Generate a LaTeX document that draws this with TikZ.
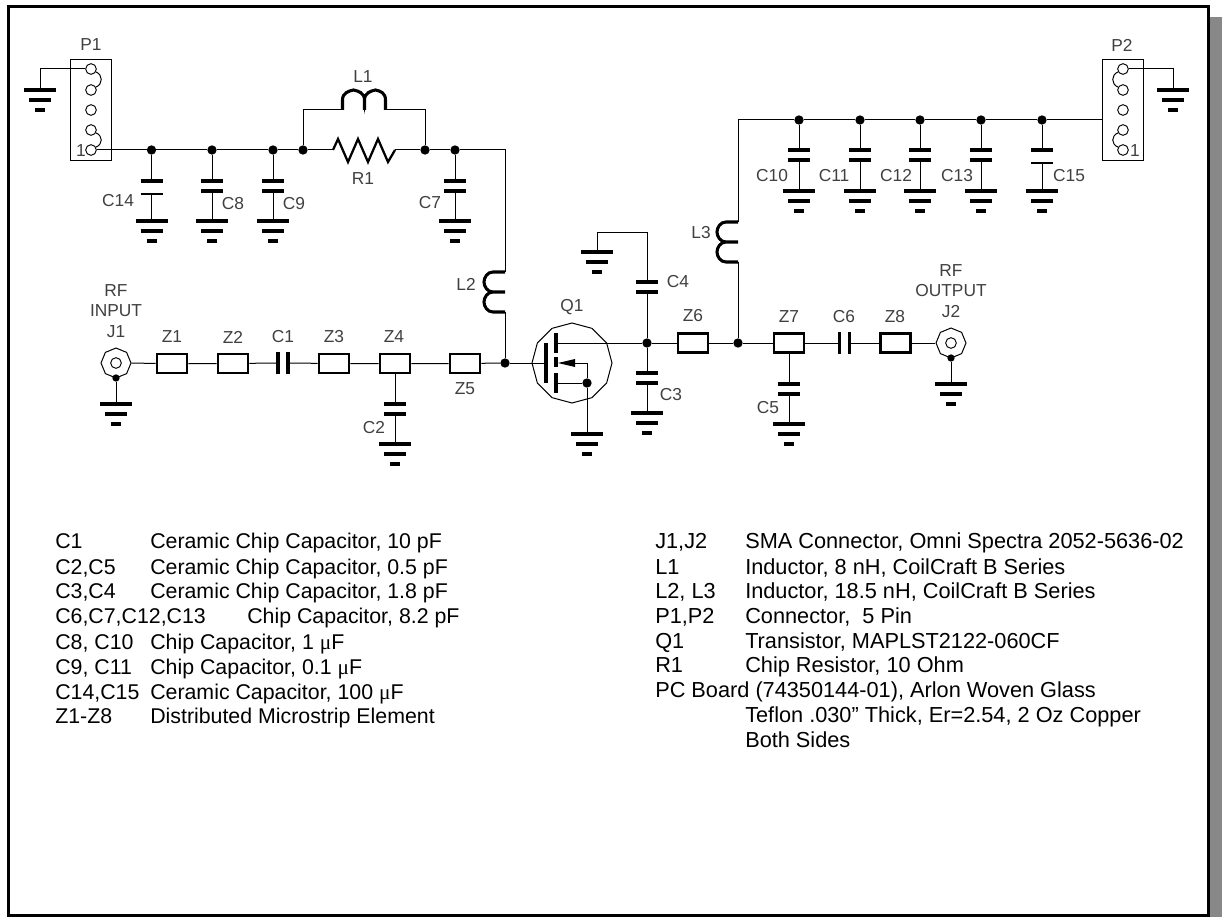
\documentclass[tikz,border=0pt]{standalone}
\usepackage{fontspec}
\setmainfont{Liberation Sans}
\newfontfamily\symbolfont{Liberation Serif}
\usetikzlibrary{shapes.geometric}
\definecolor{shadowgray}{RGB}{136,136,136}
\tikzset{
  wire/.style={line width=0.75pt},
  plate/.style={line width=2.3pt},
  coilline/.style={line width=2.3pt},
  zblock/.style={draw,line width=2.2pt,fill=white,minimum width=22.5pt,minimum height=14.25pt,inner sep=0pt},
  jdot/.style={circle,fill,inner sep=0pt,minimum size=7pt},
  pinring/.style={circle,draw,line width=0.7pt,inner sep=0pt,minimum size=8pt},
  lbl/.style={font=\fontsize{13}{14}\selectfont,text=black!75,inner sep=0pt},
  legtxt/.style={font=\fontsize{16}{18}\selectfont,text=black,anchor=base west,inner sep=0pt},
  legright/.style={font=\fontsize{16.3}{18}\selectfont,text=black,anchor=base west,inner sep=0pt},
}
% ground symbol, top bar at x,y
\newcommand{\gnd}[3]{
  \coordinate (#1) at (#2,#3);
  \draw[plate] (#2-16,#3) -- (#2+16,#3);
  \draw[plate] (#2-11,#3+10) -- (#2+11,#3+10);
  \draw[plate] (#2-5,#3+20) -- (#2+5,#3+20);
}
% capacitor standing upright, top plate at x,y
\newcommand{\capv}[3]{
  \coordinate (#1a) at (#2,#3);
  \coordinate (#1b) at (#2,#3+10);
  \draw[plate] (#2-11,#3) -- (#2+11,#3);
  \draw[plate] (#2-11,#3+10) -- (#2+11,#3+10);
}
% same, with the lower plate thin and a little further down
\newcommand{\capw}[3]{
  \coordinate (#1a) at (#2,#3);
  \coordinate (#1b) at (#2,#3+13);
  \draw[plate] (#2-11,#3) -- (#2+11,#3);
  \draw[line width=1.8pt] (#2-11,#3+13) -- (#2+11,#3+13);
}
% capacitor lying in the line, left plate at x,y
\newcommand{\caph}[3]{
  \coordinate (#1a) at (#2,#3);
  \coordinate (#1b) at (#2+10,#3);
  \draw[plate] (#2,#3-11) -- (#2,#3+11);
  \draw[plate] (#2+10,#3-11) -- (#2+10,#3+11);
}
% inductor hanging from x,y
\newcommand{\coilv}[3]{
  \coordinate (#1a) at (#2,#3);
  \coordinate (#1b) at (#2,#3+40);
  \draw[coilline] (#2,#3) -- (#2-12,#3) .. controls (#2-18,#3) and (#2-21,#3+6) .. (#2-21,#3+10)
    .. controls (#2-21,#3+14) and (#2-18,#3+20) .. (#2-12,#3+20) -- (#2,#3+20)
    (#2-12,#3+20) .. controls (#2-18,#3+20) and (#2-21,#3+26) .. (#2-21,#3+30)
    .. controls (#2-21,#3+34) and (#2-18,#3+40) .. (#2-12,#3+40) -- (#2,#3+40);
}
% inductor lying, from x,y to the right
\newcommand{\coilh}[3]{
  \coordinate (#1a) at (#2,#3);
  \coordinate (#1b) at (#2+43,#3);
  \draw[coilline] (#2,#3) -- (#2,#3-10) .. controls (#2,#3-17) and (#2+6,#3-19) .. (#2+11,#3-20)
    .. controls (#2+16,#3-19) and (#2+22,#3-17) .. (#2+22,#3-10)
    .. controls (#2+22,#3-17) and (#2+28,#3-19) .. (#2+33,#3-20)
    .. controls (#2+38,#3-19) and (#2+43,#3-17) .. (#2+43,#3-10) -- (#2+43,#3)
    (#2+22,#3-10) -- (#2+22,#3);
}
\begin{document}
\begin{tikzpicture}[x=0.75pt,y=-0.75pt]
  \useasboundingbox (0,0) rectangle (1222,917);
  % frame with its shadow
  \fill[shadowgray] (1210,17) rectangle (1222,917);
  \fill[black] (6.5,5) rectangle (1210,917);
  \fill[white] (10,8) rectangle (1207,914);

  % P1 connector
  \node[draw,line width=0.7pt,minimum width=30.75pt,minimum height=75.75pt,inner sep=0pt] (boxP1) at (90.5,109.5) {};
  \node[pinring] (p1a) at (91,69) {};
  \node[pinring] (p1b) at (91,90) {};
  \node[pinring] (p1c) at (91,110) {};
  \node[pinring] (p1d) at (91,130) {};
  \node[pinring] (p1e) at (91,150) {};
  \node[lbl] (labP1) at (91,45) {P1};
  \node[lbl] (lab1a) at (81,151) {1};
  \draw[wire] (p1a.-30) .. controls +(7,3) and +(7,-3) .. (p1b.30);
  \draw[wire] (p1d.-30) .. controls +(7,3) and +(7,-3) .. (p1e.30);
  \gnd{gP1}{40}{90}
  \draw[wire] (p1a.west) -| (gP1);

  % line from P1 with C14, C8, C9, R1, L1, C7
  \node[jdot] (j14) at (151.5,150) {};
  \node[jdot] (j8) at (212,150) {};
  \node[jdot] (j9) at (273,150) {};
  \node[jdot] (jRa) at (303,150) {};
  \node[jdot] (jRb) at (425,150) {};
  \node[jdot] (j7) at (455,150) {};
  \coordinate (R1a) at (333,150);
  \coordinate (R1b) at (395,150);
  \draw[wire] (p1e.east) -- (j14) -- (j8) -- (j9) -- (jRa) -- (R1a);
  \draw[line width=1.7pt] (R1a) -- (338,139) -- (348,162) -- (358,139) -- (368,162) -- (378,139) -- (388,162) -- (R1b);
  \draw[wire] (R1b) -- (jRb) -- (j7);
  \coilh{L1}{342.5}{110}
  \draw[wire] (jRa) |- (L1a);
  \draw[wire] (jRb) |- (L1b);
  \node[lbl] (labL1) at (363,77) {L1};
  \node[lbl] (labR1) at (363,179) {R1};

  \capw{C14}{151.5}{181}
  \gnd{g14}{151.5}{221}
  \draw[wire] (j14) -- (C14a);
  \draw[wire] (C14b) -- (g14);
  \node[lbl] (labC14) at (118,201) {C14};
  \capv{C8}{212}{181}
  \gnd{g8}{212}{221}
  \draw[wire] (j8) -- (C8a);
  \draw[wire] (C8b) -- (g8);
  \node[lbl] (labC8) at (233,204) {C8};
  \capv{C9}{273}{181}
  \gnd{g9}{273}{221}
  \draw[wire] (j9) -- (C9a);
  \draw[wire] (C9b) -- (g9);
  \node[lbl] (labC9) at (294,204) {C9};
  \capv{C7}{455}{181}
  \gnd{g7}{455}{221}
  \draw[wire] (j7) -- (C7a);
  \draw[wire] (C7b) -- (g7);
  \node[lbl] (labC7) at (430,203) {C7};

  % input line
  \node[draw,wire,regular polygon,regular polygon sides=8,shape border rotate=22.5,minimum size=22.5pt,inner sep=0pt] (J1) at (116,363) {};
  \node[pinring] (J1in) at (116,363) {};
  \node[jdot,minimum size=5.5pt] (jJ1) at (116,378) {};
  \gnd{gJ1}{116}{404}
  \draw[wire] (jJ1) -- (gJ1);
  \node[zblock] (Z1) at (172,363.5) {};
  \node[zblock] (Z2) at (233,363.5) {};
  \caph{C1}{278}{363}
  \node[zblock] (Z3) at (334,363.5) {};
  \node[zblock] (Z4) at (395,363.5) {};
  \node[zblock] (Z5) at (465,363.5) {};
  \node[jdot] (jG) at (505,363) {};
  \draw[wire] (J1) -- (Z1) -- (Z2) -- (C1a);
  \draw[wire] (C1b) -- (Z3) -- (Z4) -- (Z5) -- (jG);
  \capv{C2}{395}{404}
  \gnd{g2}{395}{444}
  \draw[wire] (Z4) -- (C2a);
  \draw[wire] (C2b) -- (g2);
  \coilv{L2}{505}{272}
  \draw[wire] (j7) -| (L2a);
  \draw[wire] (L2b) -- (jG);
  \node[lbl] (labRFa) at (116,291) {RF};
  \node[lbl] (labIN) at (116,311) {INPUT};
  \node[lbl] (labJ1) at (116,332) {J1};
  \node[lbl] (labZ1) at (172,337) {Z1};
  \node[lbl] (labZ2) at (233,337) {Z2};
  \node[lbl] (labC1) at (283,337) {C1};
  \node[lbl] (labZ3) at (334,337) {Z3};
  \node[lbl] (labZ4) at (394,337) {Z4};
  \node[lbl] (labZ5) at (465,389) {Z5};
  \node[lbl] (labC2) at (374,428) {C2};
  \node[lbl] (labL2) at (466,284) {L2};

  % transistor
  \node[draw,wire,regular polygon,regular polygon sides=12,shape border rotate=15,minimum size=60pt,inner sep=0pt] (Q1) at (572,363) {};
  \node[lbl] (labQ1) at (572,307) {Q1};
  \coordinate (gate) at (546,363);
  \coordinate (drain) at (557,343);
  \coordinate (source) at (557,383);
  \coordinate (arrowb) at (575,363);
  \draw[plate] (546,343) -- (546,383);
  \draw[plate] (556,333) -- (556,353);
  \draw[plate] (556,357) -- (556,367);
  \draw[plate] (556,373) -- (556,393);
  \fill (558,363) -- (575,359) -- (575,367) -- cycle;
  \node[jdot] (jS) at (587,383) {};
  \gnd{gQ}{587}{434}
  \draw[wire] (jG) -- (gate);
  \draw[wire] (arrowb) -| (jS);
  \draw[wire] (source) -- (jS) -- (gQ);

  % drain side
  \node[jdot] (jD) at (647,343) {};
  \draw[wire] (drain) -- (jD);
  \capv{C4}{647}{282}
  \gnd{g4}{597}{252}
  \coordinate (tie4) at (647,232);
  \draw[wire] (jD) -- (C4b);
  \draw[wire] (C4a) -- (tie4) -| (g4);
  \capv{C3}{647}{373}
  \gnd{g3}{647}{413}
  \draw[wire] (jD) -- (C3a);
  \draw[wire] (C3b) -- (g3);
  \node[lbl] (labC4) at (678,282) {C4};
  \node[lbl] (labC3) at (671,395) {C3};
  \node[zblock] (Z6) at (693,343) {};
  \node[jdot] (jL) at (738,343) {};
  \node[zblock] (Z7) at (789,343) {};
  \caph{C6}{839.5}{343}
  \node[zblock] (Z8) at (895.5,343) {};
  \node[draw,wire,regular polygon,regular polygon sides=8,shape border rotate=22.5,minimum size=22.5pt,inner sep=0pt] (J2) at (951,343) {};
  \node[pinring] (J2in) at (951,343) {};
  \node[jdot,minimum size=5.5pt] (jJ2) at (951,358) {};
  \gnd{gJ2}{951}{384}
  \draw[wire] (jJ2) -- (gJ2);
  \draw[wire] (jD) -- (Z6) -- (jL) -- (Z7) -- (C6a);
  \draw[wire] (C6b) -- (Z8) -- (J2);
  \capv{C5}{789}{384}
  \gnd{g5}{789}{424}
  \draw[wire] (Z7) -- (C5a);
  \draw[wire] (C5b) -- (g5);
  \node[lbl] (labZ6) at (693,316) {Z6};
  \node[lbl] (labZ7) at (789,317) {Z7};
  \node[lbl] (labC6) at (844,317) {C6};
  \node[lbl] (labZ8) at (895,317) {Z8};
  \node[lbl] (labC5) at (768,408) {C5};
  \node[lbl] (labRFb) at (951,271) {RF};
  \node[lbl] (labOUT) at (951,291) {OUTPUT};
  \node[lbl] (labJ2) at (951,312) {J2};

  % supply line to P2
  \coilv{L3}{738}{222}
  \draw[wire] (L3b) -- (jL);
  \node[lbl] (labL3) at (701,233) {L3};
  \node[draw,line width=0.7pt,minimum width=30.75pt,minimum height=75.75pt,inner sep=0pt] (boxP2) at (1122.5,109.5) {};
  \node[pinring] (p2a) at (1123,69) {};
  \node[pinring] (p2b) at (1123,90) {};
  \node[pinring] (p2c) at (1123,110) {};
  \node[pinring] (p2d) at (1123,130) {};
  \node[pinring] (p2e) at (1123,150) {};
  \node[lbl] (labP2) at (1122,45) {P2};
  \node[lbl] (lab1b) at (1135,151) {1};
  \draw[wire] (p2a.210) .. controls +(-7,3) and +(-7,-3) .. (p2b.150);
  \draw[wire] (p2d.210) .. controls +(-7,3) and +(-7,-3) .. (p2e.150);
  \gnd{gP2}{1173}{90}
  \draw[wire] (p2a.east) -| (gP2);
  \node[jdot] (j10) at (799,120) {};
  \node[jdot] (j11) at (860,120) {};
  \node[jdot] (j12) at (920,120) {};
  \node[jdot] (j13) at (981,120) {};
  \node[jdot] (j15) at (1042,120) {};
  \draw[wire] (L3a) |- (j10) -- (j11) -- (j12) -- (j13) -- (j15) -- (boxP2.west |- j15);
  \capv{C10}{799}{150}
  \gnd{g10}{799}{191}
  \draw[wire] (j10) -- (C10a);
  \draw[wire] (C10b) -- (g10);
  \node[lbl] (labC10) at (772,176) {C10};
  \capv{C11}{860}{150}
  \gnd{g11}{860}{191}
  \draw[wire] (j11) -- (C11a);
  \draw[wire] (C11b) -- (g11);
  \node[lbl] (labC11) at (834,176) {C11};
  \capv{C12}{920}{150}
  \gnd{g12}{920}{191}
  \draw[wire] (j12) -- (C12a);
  \draw[wire] (C12b) -- (g12);
  \node[lbl] (labC12) at (896,176) {C12};
  \capv{C13}{981}{150}
  \gnd{g13}{981}{191}
  \draw[wire] (j13) -- (C13a);
  \draw[wire] (C13b) -- (g13);
  \node[lbl] (labC13) at (957,176) {C13};
  \capw{C15}{1042}{150}
  \gnd{g15}{1042}{191}
  \draw[wire] (j15) -- (C15a);
  \draw[wire] (C15b) -- (g15);
  \node[lbl] (labC15) at (1069,176) {C15};

  % parts list, left
  \node[legtxt] (la1) at (55,548) {C1};
  \node[legtxt] (lb1) at (150,548) {Ceramic Chip Capacitor, 10 pF};
  \node[legtxt] (la2) at (55,574) {C2,C5};
  \node[legtxt] (lb2) at (150,574) {Ceramic Chip Capacitor, 0.5 pF};
  \node[legtxt] (la3) at (55,598) {C3,C4};
  \node[legtxt] (lb3) at (150,598) {Ceramic Chip Capacitor, 1.8 pF};
  \node[legtxt] (la4) at (55,623) {C6,C7,C12,C13};
  \node[legtxt] (lb4) at (247,623) {Chip Capacitor, 8.2 pF};
  \node[legtxt] (la5) at (55,649) {C8, C10};
  \node[legtxt] (lb5) at (150,649) {Chip Capacitor, 1 {\symbolfont μ}F};
  \node[legtxt] (la6) at (55,674) {C9, C11};
  \node[legtxt] (lb6) at (150,674) {Chip Capacitor, 0.1 {\symbolfont μ}F};
  \node[legtxt] (la7) at (55,699) {C14,C15};
  \node[legtxt] (lb7) at (150,699) {Ceramic Capacitor, 100 {\symbolfont μ}F};
  \node[legtxt] (la8) at (55,723) {Z1-Z8};
  \node[legtxt] (lb8) at (150,723) {Distributed Microstrip Element};

  % parts list, right
  \node[legright] (ra1) at (655,548) {J1,J2};
  \node[legright] (rb1) at (745,548) {SMA Connector, Omni Spectra 2052-5636-02};
  \node[legright] (ra2) at (655,574) {L1};
  \node[legright] (rb2) at (745,574) {Inductor, 8 nH, CoilCraft B Series};
  \node[legright] (ra3) at (655,598) {L2, L3};
  \node[legright] (rb3) at (745,598) {Inductor, 18.5 nH, CoilCraft B Series};
  \node[legright] (ra4) at (655,623) {P1,P2};
  \node[legright] (rb4) at (745,623) {Connector,\ \ 5 Pin};
  \node[legright] (ra5) at (655,648) {Q1};
  \node[legright] (rb5) at (745,648) {Transistor, MAPLST2122-060CF};
  \node[legright] (ra6) at (655,672) {R1};
  \node[legright] (rb6) at (745,672) {Chip Resistor, 10 Ohm};
  \node[legright] (ra7) at (655,697) {PC Board (74350144-01), Arlon Woven Glass};
  \node[legright] (rb8) at (745,722) {Teflon .030” Thick, Er=2.54, 2 Oz Copper};
  \node[legright] (rb9) at (745,747) {Both Sides};
\end{tikzpicture}
\end{document}
